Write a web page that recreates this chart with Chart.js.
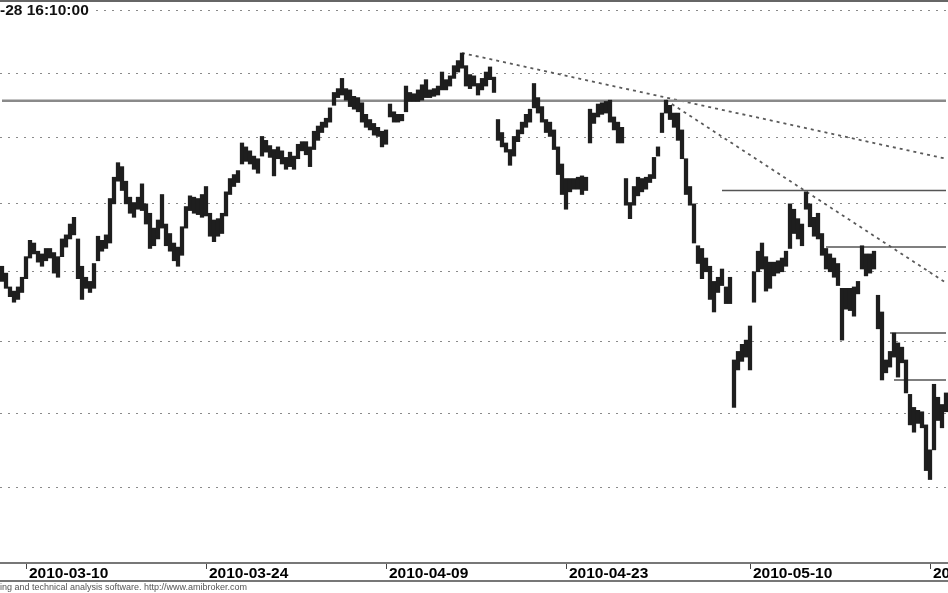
<!DOCTYPE html>
<html>
<head>
<meta charset="utf-8">
<script src="https://cdn.jsdelivr.net/npm/chart.js@4.4.1/dist/chart.umd.min.js"></script>
<style>
    html, body { margin: 0; padding: 0; background: #fff; }
    canvas { display: block; }
</style>
</head>
<body>
<canvas id="chart" width="948" height="593"></canvas>
<script>
// tick labels and the bar each date starts on
var dates = ['2010-03-10', '2010-03-24', '2010-04-09', '2010-04-23', '2010-05-10', '2010-05-24'];
var dateBars = [6, 51, 96, 141, 187, 232];

// horizontal grid (price levels, log scale)
var gridVals = [1700, 1750, 1800, 1850, 1900, 1950, 2000, 2050];

// bar lows / highs
var lows = [
    1843, 1838, 1832, 1828, 1830, 1835, 1845, 1860, 1863, 1857,
    1854, 1858, 1860, 1849, 1846, 1861, 1868, 1874, 1877, 1845,
    1830, 1838, 1835, 1838, 1858, 1865, 1867, 1871, 1900, 1917,
    1910, 1900, 1893, 1890, 1896, 1895, 1885, 1867, 1869, 1874,
    1882, 1869, 1865, 1858, 1854, 1862, 1882, 1895, 1893, 1892,
    1890, 1891, 1876, 1872, 1876, 1878, 1891, 1907, 1913, 1916,
    1930, 1932, 1930, 1926, 1923, 1936, 1939, 1935, 1921, 1934,
    1930, 1926, 1928, 1926, 1934, 1940, 1937, 1928, 1941, 1948,
    1954, 1958, 1962, 1975, 1981, 1983, 1979, 1974, 1972, 1970,
    1962, 1958, 1956, 1952, 1951, 1943, 1945, 1966, 1962, 1962,
    1963, 1970, 1978, 1978, 1978, 1979, 1981, 1981, 1982, 1983,
    1987, 1987, 1990, 1996, 2001, 2004, 1990, 1988, 1990, 1983,
    1987, 1990, 1995, 1985, 1948, 1943, 1939, 1929, 1936, 1947,
    1953, 1958, 1962, 1973, 1969, 1962, 1954, 1951, 1941, 1922,
    1907, 1896, 1909, 1911, 1911, 1907, 1910, 1946, 1961, 1966,
    1968, 1969, 1962, 1956, 1946, 1946, 1899, 1889, 1899, 1906,
    1909, 1911, 1916, 1919, 1936, 1954, 1969, 1964, 1958, 1948,
    1934, 1907, 1899, 1871, 1856, 1845, 1850, 1830, 1821, 1835,
    1840, 1827, 1827, 1754, 1780, 1786, 1789, 1780, 1828, 1850,
    1852, 1836, 1838, 1847, 1849, 1850, 1854, 1867, 1878, 1874,
    1869, 1896, 1883, 1876, 1874, 1862, 1852, 1850, 1846, 1840,
    1801, 1823, 1822, 1818, 1834, 1852, 1847, 1849, 1852, 1809,
    1773, 1778, 1782, 1789, 1775, 1785, 1764, 1742, 1737, 1743,
    1740, 1711, 1705, 1725, 1745, 1740, 1751
];
var highs = [
    1854, 1849, 1839, 1836, 1839, 1846, 1861, 1873, 1871, 1865,
    1863, 1867, 1867, 1864, 1861, 1874, 1877, 1885, 1890, 1874,
    1854, 1846, 1843, 1856, 1876, 1873, 1877, 1904, 1920, 1931,
    1928, 1917, 1905, 1901, 1905, 1915, 1900, 1893, 1882, 1888,
    1907, 1885, 1878, 1871, 1868, 1883, 1898, 1906, 1905, 1904,
    1907, 1913, 1893, 1888, 1889, 1893, 1909, 1919, 1922, 1925,
    1946, 1943, 1940, 1936, 1934, 1951, 1948, 1944, 1941, 1943,
    1940, 1935, 1939, 1936, 1945, 1947, 1947, 1943, 1955, 1959,
    1962, 1965, 1973, 1985, 1988, 1996, 1988, 1987, 1982, 1981,
    1977, 1968, 1964, 1961, 1958, 1955, 1956, 1976, 1970, 1968,
    1968, 1990, 1985, 1984, 1987, 1991, 1995, 1987, 1988, 1990,
    2001, 1995, 1998, 2006, 2010, 2016, 2006, 1999, 1998, 1992,
    1996, 2001, 2005, 1997, 1964, 1954, 1946, 1941, 1951, 1956,
    1962, 1968, 1972, 1992, 1981, 1974, 1964, 1962, 1956, 1943,
    1930, 1919, 1919, 1919, 1920, 1921, 1920, 1972, 1969, 1976,
    1977, 1978, 1979, 1966, 1962, 1958, 1919, 1901, 1913, 1920,
    1919, 1920, 1922, 1935, 1943, 1969, 1979, 1975, 1969, 1969,
    1956, 1934, 1913, 1900, 1869, 1867, 1860, 1854, 1843, 1846,
    1852, 1839, 1846, 1787, 1793, 1798, 1801, 1811, 1850, 1865,
    1871, 1861, 1857, 1857, 1858, 1860, 1865, 1900, 1896, 1889,
    1885, 1909, 1900, 1890, 1893, 1878, 1867, 1863, 1860, 1856,
    1838, 1838, 1838, 1839, 1843, 1869, 1863, 1863, 1865, 1833,
    1821, 1787, 1793, 1806, 1799, 1796, 1787, 1763, 1754, 1752,
    1751, 1742, 1725, 1770, 1761, 1756, 1764
];

// support / resistance levels: first bar and price
var levelFrom = [0, 180, 206, 222, 223];
var levelVals = [1978.5, 1910, 1868, 1806, 1773];

// trend lines: [bar, price] at both ends
var trendA = [[115, 2016], [236, 1934]];
var trendB = [[166, 1979], [236, 1842]];

var stamp = '-28 16:10:00';
var footer = 'ing and technical analysis software. http://www.amibroker.com';

var FONT = '"Liberation Sans", Arial, sans-serif';

var n = lows.length;
var labels = lows.map(function (v, k) {
    var j = dateBars.indexOf(k);
    return j >= 0 ? dates[j] : '';
});

function emptyRow() {
    var row = [];
    for (var k = 0; k < n; k++) row.push(null);
    return row;
}

var datasets = [{
    label: 'price',
    data: lows.map(function (l, k) { return [l, highs[k]]; }),
    backgroundColor: '#1e1e1e',
    borderWidth: 0,
    barThickness: 3.6,
    borderSkipped: false
}];

levelVals.forEach(function (v, j) {
    var row = emptyRow();
    for (var k = levelFrom[j]; k < n; k++) row[k] = v;
    datasets.push({
        type: 'line',
        data: row,
        borderColor: j === 0 ? '#8a8a8a' : '#555',
        borderWidth: j === 0 ? 2.5 : 1.5,
        pointRadius: 0,
        spanGaps: true
    });
});

[trendA, trendB].forEach(function (t) {
    var row = emptyRow();
    row[t[0][0]] = t[0][1];
    row[t[1][0]] = t[1][1];
    datasets.push({
        type: 'line',
        data: row,
        borderColor: '#5a5a5a',
        borderWidth: 1.8,
        borderDash: [3, 4],
        pointRadius: 0,
        spanGaps: true
    });
});

var decor = {
    id: 'decor',
    beforeDraw: function (chart) {
        var ctx = chart.ctx;
        ctx.save();
        ctx.fillStyle = '#fff';
        ctx.fillRect(0, 0, chart.width, chart.height);
        ctx.restore();
    },
    afterDraw: function (chart) {
        var ctx = chart.ctx;
        ctx.save();
        ctx.fillStyle = '#666';
        ctx.fillRect(0, 0, chart.width, 2);
        ctx.fillStyle = '#777';
        ctx.fillRect(0, 580, chart.width, 2);
        ctx.fillStyle = '#fff';
        ctx.fillRect(0, 3, 95, 16);
        ctx.fillStyle = '#111';
        ctx.textBaseline = 'middle';
        ctx.font = 'bold 15.5px ' + FONT;
        ctx.fillText(stamp, 0, 11);
        ctx.fillStyle = '#555';
        ctx.font = '9px ' + FONT;
        ctx.fillText(footer, 0, 588);
        ctx.restore();
    }
};

new Chart(document.getElementById('chart'), {
    type: 'bar',
    data: { labels: labels, datasets: datasets },
    options: {
        responsive: false,
        animation: false,
        devicePixelRatio: 1,
        layout: { padding: { top: 3, left: 0, right: 0, bottom: 0 } },
        plugins: { legend: { display: false }, tooltip: { enabled: false } },
        scales: {
            x: {
                offset: true,
                grid: { drawOnChartArea: false, offset: false, color: '#444', tickLength: 6 },
                border: { display: true, color: '#777', width: 2 },
                ticks: {
                    autoSkip: false, maxRotation: 0, align: 'start', labelOffset: 3, padding: -5,
                    color: '#000', font: { family: FONT, size: 15.5, weight: 'bold' }
                },
                afterBuildTicks: function (s) {
                    s.ticks = dateBars.map(function (v) { return { value: v }; });
                },
                afterFit: function (s) {
                    s.height = 30;
                    s.paddingLeft = 0;
                    s.paddingRight = 0;
                }
            },
            y: {
                type: 'logarithmic',
                min: 1650,
                max: 2056,
                ticks: { display: false },
                grid: { color: '#8a8a8a', lineWidth: 1, drawTicks: false },
                border: { display: false, dash: [2, 6] },
                afterBuildTicks: function (s) {
                    s.ticks = gridVals.map(function (v) { return { value: v }; });
                },
                afterFit: function (s) { s.width = 0; }
            }
        }
    },
    plugins: [decor]
});
</script>
</body>
</html>
